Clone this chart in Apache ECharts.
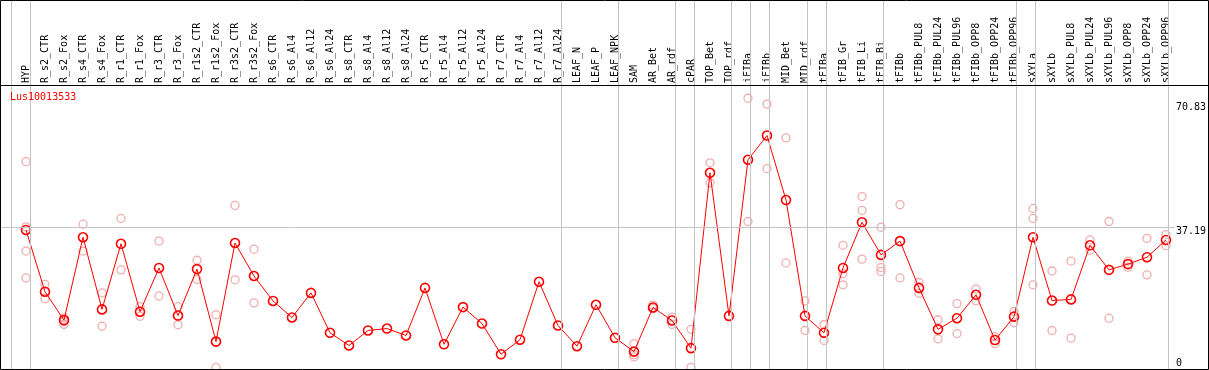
<!DOCTYPE html>
<html><head><meta charset="utf-8">
<script src="https://cdn.jsdelivr.net/npm/echarts@6/dist/echarts.min.js"></script>
<style>html,body{margin:0;padding:0;background:#fff}#c{width:1209px;height:370px}</style>
</head><body><div id="c"></div>
<script>
const geneName = 'Lus10013533';
const categories = ['HYP','R_s2_CTR','R_s2_Fox','R_s4_CTR','R_s4_Fox','R_r1_CTR','R_r1_Fox','R_r3_CTR','R_r3_Fox','R_r1s2_CTR','R_r1s2_Fox','R_r3s2_CTR','R_r3s2_Fox','R_s6_CTR','R_s6_Al4','R_s6_Al12','R_s6_Al24','R_s8_CTR','R_s8_Al4','R_s8_Al12','R_s8_Al24','R_r5_CTR','R_r5_Al4','R_r5_Al12','R_r5_Al24','R_r7_CTR','R_r7_Al4','R_r7_Al12','R_r7_Al24','LEAF_N','LEAF_P','LEAF_NPK','SAM','AR_Bet','AR_rdf','cPAR','TOP_Bet','TOP_rdf','iFIBa','iFIBb','MID_Bet','MID_rdf','tFIBa','tFIB_Gr','tFIB_Li','tFIB_Bi','tFIBb','tFIBb_PUL8','tFIBb_PUL24','tFIBb_PUL96','tFIBb_OPP8','tFIBb_OPP24','tFIBb_OPP96','sXYLa','sXYLb','sXYLb_PUL8','sXYLb_PUL24','sXYLb_PUL96','sXYLb_OPP8','sXYLb_OPP24','sXYLb_OPP96'];
const meanValues = [36.5,20.4,13.0,34.6,15.8,32.9,15.2,26.6,14.2,26.3,7.4,33.1,24.5,18.0,13.7,20.1,9.7,6.4,10.3,10.8,9.0,21.4,6.7,16.4,12.1,4.1,7.9,23.0,11.6,6.2,17.0,8.4,4.8,16.3,12.9,5.7,51.4,14.1,54.8,61.1,44.3,14.1,9.7,26.6,38.5,30.0,33.6,21.4,10.6,13.5,19.6,7.8,13.9,34.6,18.1,18.4,32.5,26.1,27.6,29.4,33.9];
const replicates = [
  [54.3,37.3,31.0,24.0],[22.3,18.6],[13.6,11.9,12.6],[38.0,31.0],[20.1,11.4],[39.5,26.1],[16.5,14.0],[33.6,19.3],[16.5,11.8],[28.6,23.6],
  [14.4,0.7],[42.9,23.5],[31.5,17.5],[],[],[],[],[],[],[],
  [],[],[],[],[],[],[],[],[],[],
  [],[],[6.9,4.0,3.4],[16.9,16.0],[13.8,11.9],[10.6,0.7],[54.0,48.8],[],[70.83,38.7],[69.3,52.5],
  [60.5,27.9],[18.0,10.3],[11.8,7.7],[32.5,25.1,22.2],[45.2,41.6,28.9],[37.2,26.7,25.7],[43.1,24.0],[22.8,20.0],[13.1,8.1],[17.3,9.5],
  [21.1,18.0],[8.7,6.9],[15.3,12.3],[42.1,39.5,22.2],[25.8,10.3],[28.4,8.3],[33.9,31.2],[38.7,13.5],[28.4,26.8],[34.3,24.8],
  [35.3,32.4]
];
const yTickLabels = [0, 37.19, 70.83];
const referenceLineValue = 37.19;
const groupEnds = [-1,0,28,31,34,35,37,38,39,41,42,45,52,53,60];
// scale bounds
const plotYMax = 74.02;   // value at top of the data panel
const frameYMax = 96.27;  // value at the very top of the frame
const frameXMin = -1.316, frameXMax = 60.579;

const repData = [];
replicates.forEach((arr, i) => arr.forEach(v => repData.push([i, v])));

const FONT = 'DejaVu Sans Mono';
const GREY = '#c4c4c4';

const chart = echarts.init(document.getElementById('c'), null, {renderer: 'canvas'});
chart.setOption({
  animation: false,
  backgroundColor: '#fff',
  title: {
    text: geneName, left: 10, top: 92, padding: 0,
    textStyle: {color: '#ff0000', fontSize: 10, fontFamily: FONT, fontWeight: 'normal'}
  },
  grid: [
    {left: 16.5, width: 1159, top: 86, bottom: -2},
    {left: 1, width: 1176, top: 0, bottom: -2}
  ],
  xAxis: [
    {
      type: 'category', gridIndex: 0, data: categories, position: 'top',
      axisLine: {show: false}, axisTick: {show: false}, splitLine: {show: false},
      axisLabel: {interval: 0, rotate: 90, margin: 3, fontSize: 10, fontFamily: FONT, color: '#000'}
    },
    {type: 'value', gridIndex: 1, min: frameXMin, max: frameXMax, show: false}
  ],
  yAxis: [
    {type: 'value', gridIndex: 0, min: 0, max: plotYMax, show: false},
    {
      type: 'value', gridIndex: 1, min: 0, max: frameYMax, position: 'right',
      axisLine: {show: false}, axisTick: {show: false}, splitLine: {show: false},
      axisLabel: {
        show: true, customValues: yTickLabels, margin: 1, align: 'left',
        fontSize: 10, fontFamily: FONT, color: '#000',
        formatter: v => v === 0 ? '{c|0}' : (v > 50 ? '{a|' + v.toFixed(2) + '}' : '{b|' + v.toFixed(2) + '}'),
        rich: {
          a: {fontSize: 10, fontFamily: FONT, color: '#000', padding: [19, 0, 0, 0]},
          b: {fontSize: 10, fontFamily: FONT, color: '#000', padding: [9, 0, 0, 0]},
          c: {fontSize: 10, fontFamily: FONT, color: '#000', padding: [0, 0, 13, 0]}
        }
      }
    }
  ],
  series: [
    {
      type: 'line', xAxisIndex: 1, yAxisIndex: 1, data: [], silent: true, showSymbol: false,
      markLine: {
        silent: true, symbol: 'none', label: {show: false},
        lineStyle: {color: GREY, width: 1, type: 'solid'},
        data: groupEnds.map(g => ({xAxis: g + 0.21})).concat([{yAxis: referenceLineValue}])
      }
    },
    {
      type: 'scatter', xAxisIndex: 0, yAxisIndex: 0, data: repData, symbol: 'circle', symbolSize: 8,
      itemStyle: {color: 'rgba(255,255,255,0)', borderColor: '#ec9a9a', borderWidth: 1.3}, z: 3
    },
    {
      type: 'line', xAxisIndex: 0, yAxisIndex: 0, data: meanValues, symbol: 'circle', symbolSize: 9,
      showAllSymbol: true,
      lineStyle: {color: '#ff0000', width: 1},
      itemStyle: {color: 'rgba(255,255,255,0)', borderColor: '#ff0000', borderWidth: 1.6}, z: 4
    }
  ],
  graphic: [
    {type: 'rect', z: 100, silent: true, shape: {x: 0.5, y: 0.5, width: 1208, height: 369},
      style: {fill: 'none', stroke: '#000', lineWidth: 1}},
    {type: 'line', z: 100, silent: true, shape: {x1: 0, y1: 85.5, x2: 1209, y2: 85.5},
      style: {stroke: '#000', lineWidth: 1}}
  ]
});
</script></body></html>
